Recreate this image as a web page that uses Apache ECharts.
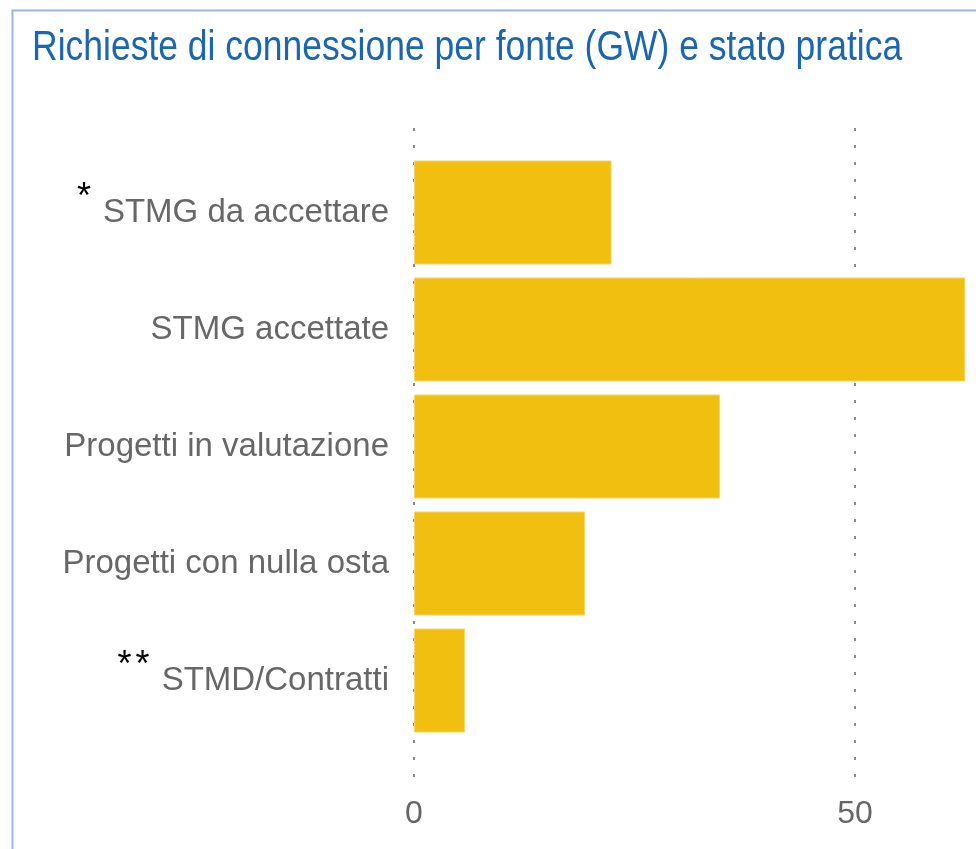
<!DOCTYPE html>
<html>
<head>
<meta charset="utf-8">
<script src="https://cdn.jsdelivr.net/npm/echarts@6/dist/echarts.min.js"></script>
<style>
  html, body { margin: 0; padding: 0; background: #fff; }
  #chart { width: 976px; height: 849px; }
</style>
</head>
<body>
<div id="chart"></div>
<script>
// stato pratica, dall'alto verso il basso
const categories = ['STMG da accettare', 'STMG accettate', 'Progetti in valutazione', 'Progetti con nulla osta', 'STMD/Contratti']
const marks = ['*', '', '', '', '**']
const valuesGW = [22.4, 62.5, 34.7, 19.4, 5.8]
const xTicks = [0, 50, 100]

const chart = echarts.init(document.getElementById('chart'))

const fontMain = '"Liberation Sans", Arial, sans-serif'

// asterischi neri in apice davanti all'etichetta
function markText(m) {
  let out = ''
  for (let i = 0; i < m.length; i++) {
    out += (i === m.length - 1 ? '{m|*}' : '{s|*}')
  }
  return out
}

const starStyle = {
  fontSize: 36,
  fontFamily: fontMain,
  color: '#000',
  verticalAlign: 'top',
  padding: [0, 12, 28, 0]
}

let option = {
  backgroundColor: '#fff',
  animation: false,
  graphic: [
    {
      // cornice del riquadro
      type: 'rect',
      shape: { x: 12.5, y: 10.5, width: 1000, height: 900 },
      style: { fill: 'none', stroke: '#9fb6e2', lineWidth: 2 }
    },
    {
      // titolo (testo un po' stretto e allungato come nell'originale)
      type: 'text',
      x: 32,
      y: 27,
      scaleY: 1.2,
      style: {
        text: 'Richieste di connessione per fonte (GW) e stato pratica',
        font: 'normal 35.5px ' + fontMain,
        fill: '#1a66b0'
      }
    }
  ],
  grid: [
    // griglia delle barre
    { left: 414, top: 154, width: 882, height: 585, outerBoundsMode: 'none', containLabel: false },
    // griglia per le linee tratteggiate e le etichette dell'asse
    { left: 414, top: 128, width: 882, height: 658, outerBoundsMode: 'none', containLabel: false }
  ],
  xAxis: [
    {
      gridIndex: 0,
      type: 'value',
      min: xTicks[0],
      max: xTicks[xTicks.length - 1],
      interval: 50,
      axisLine: { show: false },
      axisTick: { show: false },
      axisLabel: { show: false },
      splitLine: { show: false }
    },
    {
      gridIndex: 1,
      type: 'value',
      min: xTicks[0],
      max: xTicks[xTicks.length - 1],
      interval: 50,
      axisLine: { show: false },
      axisTick: { show: false },
      axisLabel: {
        margin: 12,
        fontFamily: fontMain,
        fontSize: 32,
        color: '#666'
      },
      splitLine: {
        show: true,
        lineStyle: { color: '#8a8a8a', width: 2, type: [3, 14] }
      }
    }
  ],
  yAxis: [
    {
      gridIndex: 0,
      type: 'category',
      inverse: true,
      data: categories,
      axisLine: { show: false },
      axisTick: { show: false },
      axisLabel: {
        margin: 25,
        formatter: function (val, idx) {
          return marks[idx] ? markText(marks[idx]) + val : val
        },
        fontFamily: fontMain,
        fontSize: 33,
        color: '#676767',
        rich: {
          m: starStyle,
          s: Object.assign({}, starStyle, { padding: [0, 4, 28, 0] })
        }
      }
    },
    {
      gridIndex: 1,
      type: 'category',
      data: [''],
      show: false
    }
  ],
  series: [
    {
      type: 'bar',
      xAxisIndex: 0,
      yAxisIndex: 0,
      data: valuesGW,
      barWidth: 104,
      itemStyle: {
        color: '#f0bf0f',
        borderColor: '#f5d46c',
        borderWidth: 1
      }
    }
  ]
}

chart.setOption(option)
window.addEventListener('resize', () => { chart.resize() })
</script>
</body>
</html>
